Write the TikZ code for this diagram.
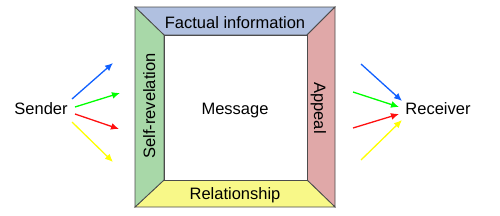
\documentclass[tikz,border=0pt]{standalone}
\usepackage{fontspec}
\setmainfont{Liberation Sans}
\usetikzlibrary{arrows.meta}
\definecolor{cblue}{RGB}{176,192,224}
\definecolor{cgreen}{RGB}{168,216,168}
\definecolor{cpink}{RGB}{224,168,168}
\definecolor{cyellow}{RGB}{248,248,136}
\definecolor{ablue}{RGB}{16,96,255}
\definecolor{agreen}{RGB}{0,255,0}
\definecolor{ared}{RGB}{255,16,16}
\definecolor{ayellow}{RGB}{255,255,0}
\tikzset{
  lbl/.style={font=\fontsize{16.5}{19}\selectfont, inner sep=0pt, anchor=base},
  band/.style={draw=black!70, line width=0.8pt, line join=miter},
  arr/.style={line width=1.3pt, -{Latex[length=8pt,width=7pt]}}
}
\begin{document}
\begin{tikzpicture}[x=1pt,y=-1pt]
\useasboundingbox (0,0) rectangle (500,215);
% corner coordinates
\coordinate (o1) at (135,7);
\coordinate (o2) at (335,7);
\coordinate (o3) at (335,207);
\coordinate (o4) at (135,207);
\coordinate (i1) at (164,35);
\coordinate (i2) at (307,35);
\coordinate (i3) at (307,180);
\coordinate (i4) at (164,180);
% bands
\filldraw[band, fill=cblue] (o1) -- (o2) -- (i2) -- (i1) -- cycle;
\filldraw[band, fill=cpink] (o2) -- (o3) -- (i3) -- (i2) -- cycle;
\filldraw[band, fill=cyellow] (o3) -- (o4) -- (i4) -- (i3) -- cycle;
\filldraw[band, fill=cgreen] (o4) -- (o1) -- (i1) -- (i4) -- cycle;
\draw[band, fill=white] (i1) rectangle (i3);
% labels
\node[lbl] (fact) at (235,28.5) {Factual information};
\node[lbl] (rel) at (235,199) {Relationship};
\node[lbl, rotate=90] (self) at (155,106) {Self-revelation};
\node[lbl, rotate=-90] (app) at (314,108) {Appeal};
\node[lbl] (msg) at (235,114) {Message};
\node[lbl] (send) at (41,114) {Sender};
\node[lbl] (recv) at (438,114) {Receiver};
% arrow end points
\coordinate (sb) at (72,99);  \coordinate (sbe) at (113,63);
\coordinate (sg) at (75,107); \coordinate (sge) at (120,93);
\coordinate (sr) at (75,114); \coordinate (sre) at (119,129);
\coordinate (sy) at (72,122); \coordinate (sye) at (113,162);
\coordinate (rb) at (361,64); \coordinate (rbe) at (402,101);
\coordinate (rg) at (353,92); \coordinate (rge) at (399,107);
\coordinate (rr) at (353,128); \coordinate (rre) at (399,114);
\coordinate (ry) at (361,160); \coordinate (rye) at (402,120);
\draw[arr, ablue] (sb) -- (sbe);
\draw[arr, agreen] (sg) -- (sge);
\draw[arr, ared] (sr) -- (sre);
\draw[arr, ayellow] (sy) -- (sye);
\draw[arr, ablue] (rb) -- (rbe);
\draw[arr, agreen] (rg) -- (rge);
\draw[arr, ared] (rr) -- (rre);
\draw[arr, ayellow] (ry) -- (rye);
\end{tikzpicture}
\end{document}
